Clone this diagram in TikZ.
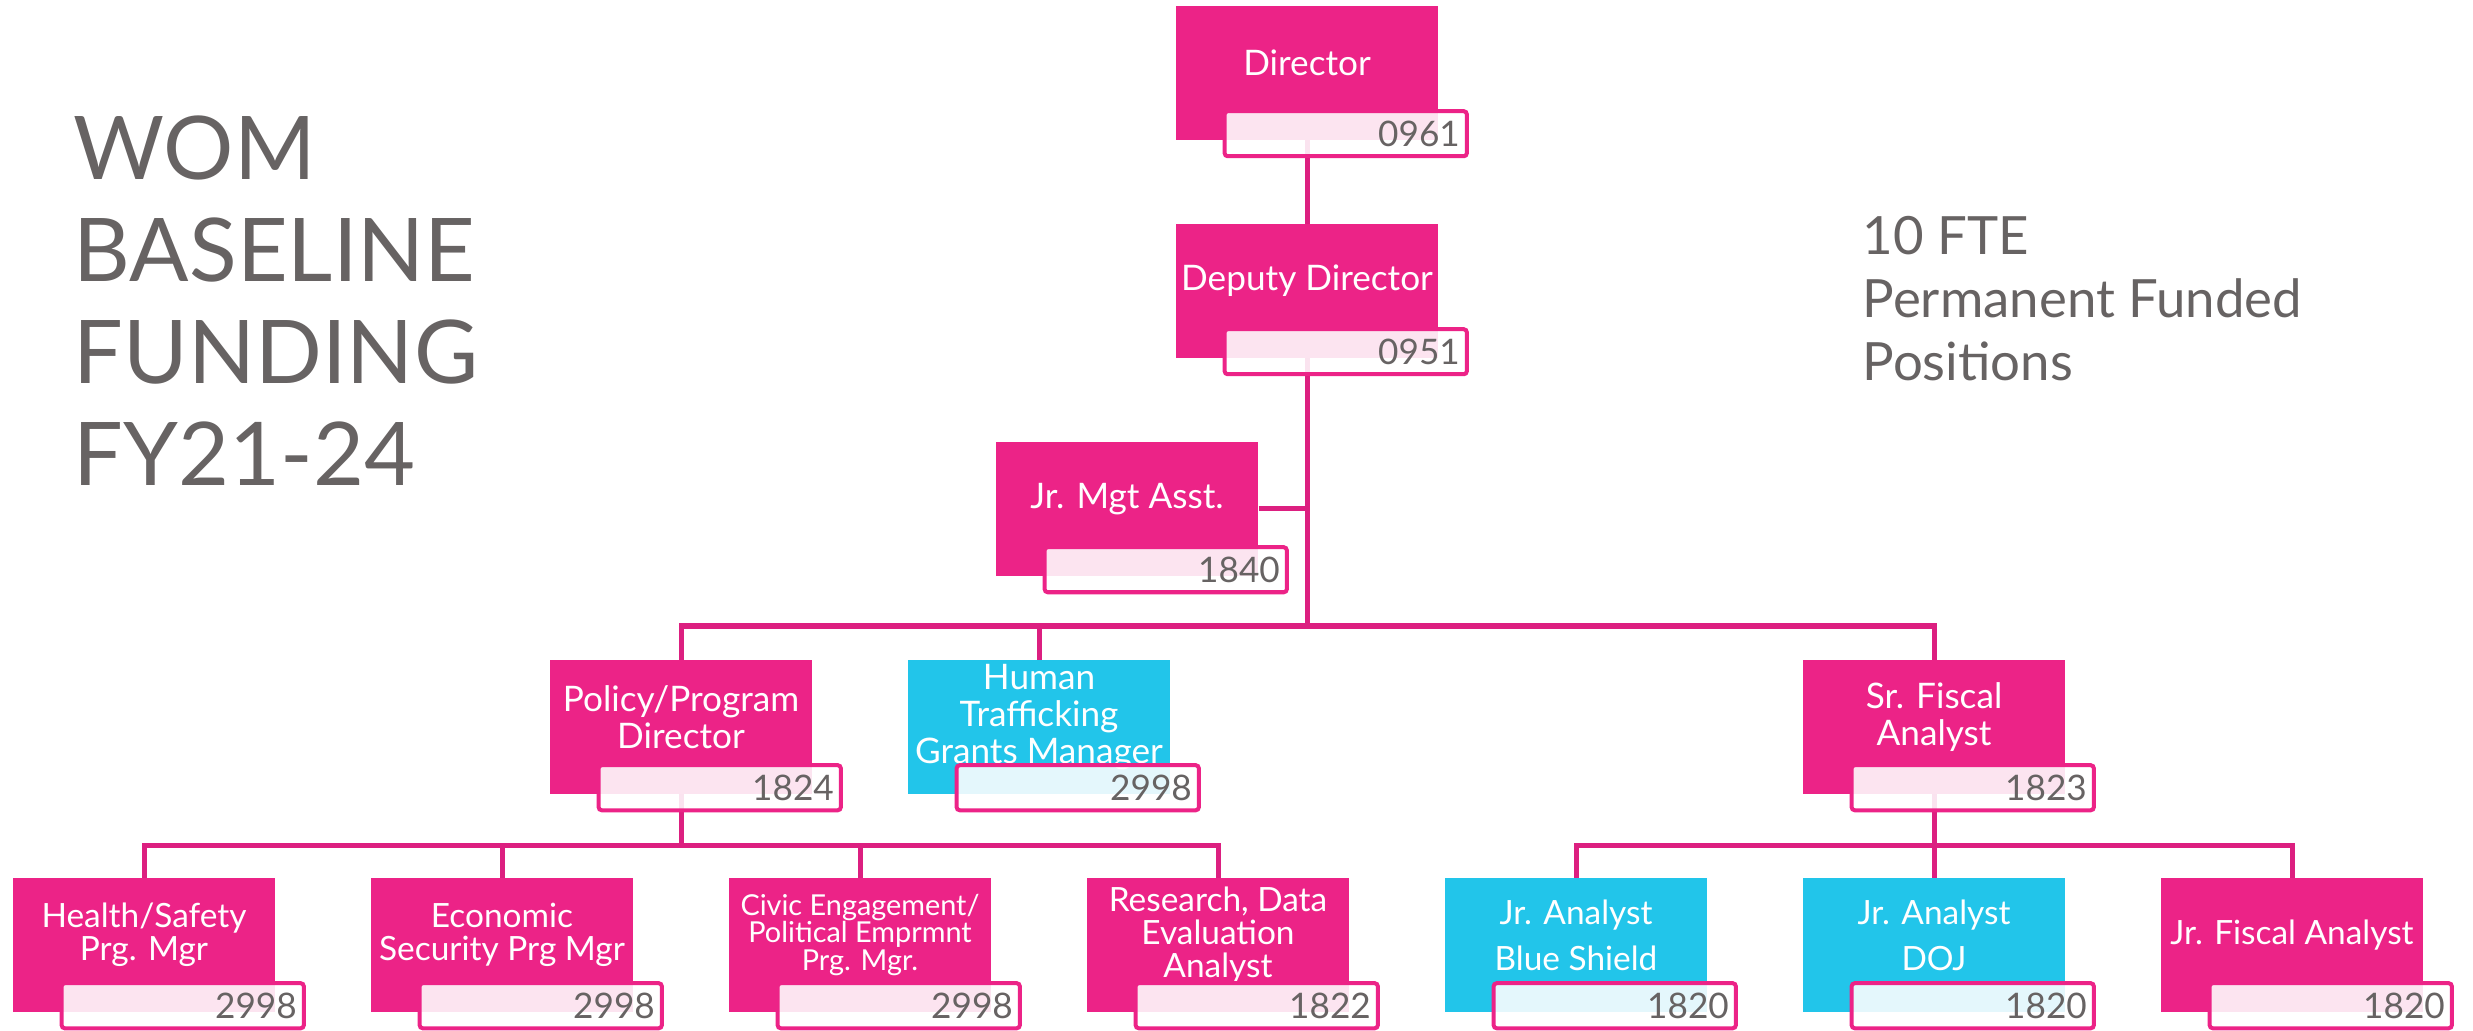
\documentclass[tikz,border=0pt]{standalone}
\usepackage{fontspec}
\setmainfont{Lato}
\usetikzlibrary{positioning}

\definecolor{wompink}{HTML}{EC2387}
\definecolor{womcyan}{HTML}{22C5EA}
\definecolor{womline}{HTML}{DC1F80}
\definecolor{womgray}{HTML}{676363}

\begin{document}
\begin{tikzpicture}[x = 0.01cm, y = -0.01cm]
	\tikzstyle{post} = [rectangle, minimum width = 2.62cm, minimum height = 1.33cm, inner sep = 0pt]
	\tikzstyle{posttext} = [yshift = 1mm, inner sep = 0pt, text = white, align = center, font = \fontsize{10}{10.5}\selectfont]
	\tikzstyle{postcode} = [rectangle, anchor = north east, draw = wompink, line width = 0.4mm, rounded corners = 0.3mm, fill = white, fill opacity = 0.88, text opacity = 1, text = womgray, text width = 2.28cm, align = right, inner xsep = 0.07cm, inner ysep = 0pt, minimum height = 0.45cm, font = \fontsize{10}{12}\selectfont]
	\tikzstyle{link} = [draw = womline, line width = 0.5mm]
	\tikzstyle{heading} = [anchor = north west, inner sep = 0pt, align = left, text = womgray]

	\useasboundingbox (0, 0) rectangle (2473, 1031);

	\node[heading, font = \fontsize{25}{29}\selectfont] at (73, 115) (title) {WOM\\BASELINE\\FUNDING\\FY21-24};
	\node[heading, font = \fontsize{15}{17.9}\selectfont] at (1862, 216) (fte) {10 FTE\\Permanent Funded\\Positions};

	\node[post, fill = wompink, label = {[posttext]center:Director}] at (1307, 73) (dir) {};
	\node[post, fill = wompink, label = {[posttext]center:Deputy Director}] at (1307, 291) (dep) {};
	\node[post, fill = wompink, label = {[posttext]center:Jr. Mgt Asst.}] at (1127, 509) (jma) {};

	\node[post, fill = wompink, label = {[posttext]center:{Policy/Program\\Director}}] at (681, 727) (pol) {};
	\node[post, fill = womcyan, label = {[posttext]center:{Human\\Trafficking\\Grants Manager}}] at (1039, 727) (hum) {};
	\node[post, fill = wompink, label = {[posttext]center:{Sr. Fiscal\\Analyst}}] at (1934, 727) (sfa) {};

	\node[post, fill = wompink, label = {[posttext, font = \fontsize{9.5}{9.5}\selectfont]center:{Health/Safety\\Prg. Mgr}}] at (144, 945) (hsm) {};
	\node[post, fill = wompink, label = {[posttext, font = \fontsize{9.5}{9.5}\selectfont]center:{Economic\\Security Prg Mgr}}] at (502, 945) (esm) {};
	\node[post, fill = wompink, label = {[posttext, font = \fontsize{8.2}{7.9}\selectfont]center:{Civic Engagement/\\Political Emprmnt\\Prg. Mgr.}}] at (860, 945) (cem) {};
	\node[post, fill = wompink, label = {[posttext, font = \fontsize{9.5}{9.4}\selectfont]center:{Research, Data\\Evaluation\\Analyst}}] at (1218, 945) (rda) {};
	\node[post, fill = womcyan, label = {[posttext, font = \fontsize{9.5}{13}\selectfont]center:{Jr. Analyst\\Blue Shield}}] at (1576, 945) (jab) {};
	\node[post, fill = womcyan, label = {[posttext, font = \fontsize{9.5}{13}\selectfont]center:{Jr. Analyst\\DOJ}}] at (1934, 945) (jad) {};
	\node[post, fill = wompink, label = {[posttext, font = \fontsize{9.5}{9.5}\selectfont]center:Jr. Fiscal Analyst}] at (2292, 945) (jfa) {};

	% reporting lines
	\coordinate (bus1) at (1307, 626);
	\coordinate (bus2) at (681, 845);
	\coordinate (bus3) at (1934, 845);

	\draw[link] (dir) -- (dep);
	\draw[link] (dep.south) -- (bus1);
	\draw[link] (jma.east) -- (jma.east -| dep.south);
	\draw[link] (pol.north) |- (bus1) -| (sfa.north);
	\draw[link] (hum.north) -- (hum.north |- bus1);

	\draw[link] (pol.south) -- (bus2);
	\draw[link] (hsm.north) |- (bus2) -| (rda.north);
	\draw[link] (esm.north) -- (esm.north |- bus2);
	\draw[link] (cem.north) -- (cem.north |- bus2);

	\draw[link] (sfa.south) -- (bus3);
	\draw[link] (jab.north) |- (bus3) -| (jfa.north);
	\draw[link] (jad.north) -- (bus3);

	% position codes
	\node[postcode] at ([xshift = 3mm, yshift = 3.1mm]dir.south east) (dirc) {0961};
	\node[postcode] at ([xshift = 3mm, yshift = 3.1mm]dep.south east) (depc) {0951};
	\node[postcode] at ([xshift = 3mm, yshift = 3.1mm]jma.south east) (jmac) {1840};
	\node[postcode] at ([xshift = 3mm, yshift = 3.1mm]pol.south east) (polc) {1824};
	\node[postcode] at ([xshift = 3mm, yshift = 3.1mm]hum.south east) (humc) {2998};
	\node[postcode] at ([xshift = 3mm, yshift = 3.1mm]sfa.south east) (sfac) {1823};
	\node[postcode] at ([xshift = 3mm, yshift = 3.1mm]hsm.south east) (hsmc) {2998};
	\node[postcode] at ([xshift = 3mm, yshift = 3.1mm]esm.south east) (esmc) {2998};
	\node[postcode] at ([xshift = 3mm, yshift = 3.1mm]cem.south east) (cemc) {2998};
	\node[postcode] at ([xshift = 3mm, yshift = 3.1mm]rda.south east) (rdac) {1822};
	\node[postcode] at ([xshift = 3mm, yshift = 3.1mm]jab.south east) (jabc) {1820};
	\node[postcode] at ([xshift = 3mm, yshift = 3.1mm]jad.south east) (jadc) {1820};
	\node[postcode] at ([xshift = 3mm, yshift = 3.1mm]jfa.south east) (jfac) {1820};
\end{tikzpicture}
\end{document}
